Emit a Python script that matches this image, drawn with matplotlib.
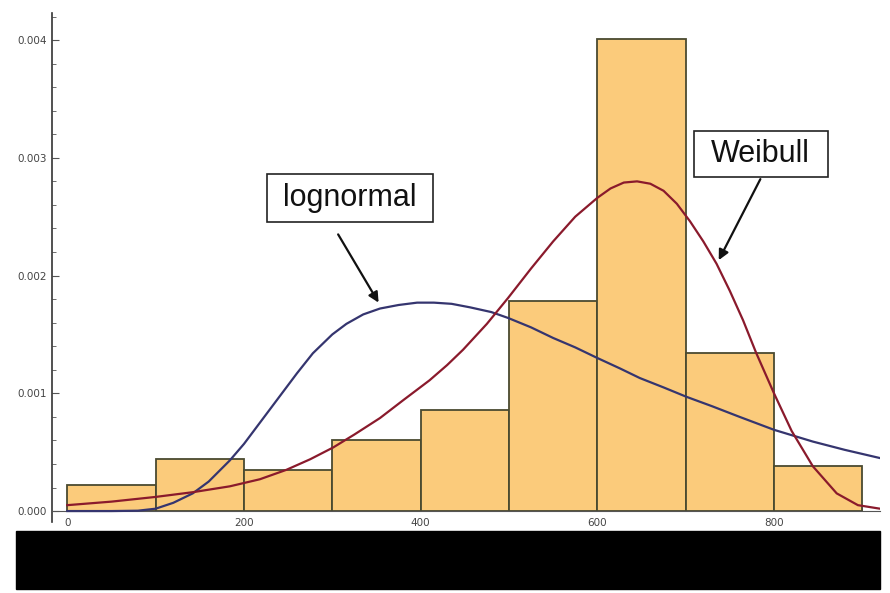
import matplotlib.pyplot as plt
from matplotlib.patches import Rectangle
from matplotlib.ticker import MultipleLocator, FormatStrFormatter

# histogram bins (width 100) and densities
bin_edges = [0, 100, 200, 300, 400, 500, 600, 700, 800, 900]
densities = [0.00022, 0.00044, 0.00035, 0.00060, 0.00086, 0.00178, 0.00401, 0.00134, 0.00038]

# fitted curves, points
logn_x = [0, 50, 80, 100, 120, 142, 160, 184, 200, 218, 241, 260, 278, 300, 316, 335, 354,
          375, 396, 415, 435, 456, 480, 499, 525, 550, 575, 600, 626, 648, 675, 701,
          730, 761, 800, 844, 880, 920]
logn_y = [0, 0, 0.000003, 0.00002, 0.00007, 0.00015, 0.00025, 0.00043, 0.00057, 0.00075,
          0.00098, 0.00117, 0.00134, 0.00150, 0.00159, 0.00167, 0.00172, 0.00175, 0.00177,
          0.00177, 0.00176, 0.00173, 0.00169, 0.00164, 0.00156, 0.00147, 0.00139, 0.00130,
          0.00121, 0.00113, 0.00105, 0.00097, 0.00089, 0.00080, 0.00069, 0.00059, 0.00052,
          0.00045]

weib_x = [0, 50, 100, 142, 184, 218, 248, 275, 301, 325, 354, 380, 410, 430, 448, 475,
          499, 525, 550, 575, 600, 615, 630, 645, 660, 675, 690, 705, 720, 735, 750, 765,
          780, 800, 820, 844, 871, 895, 920]
weib_y = [0.00005, 0.00008, 0.00012, 0.00016, 0.00021, 0.00027, 0.00035, 0.00044, 0.00054,
          0.00065, 0.00079, 0.00094, 0.00111, 0.00124, 0.00137, 0.00159, 0.00181, 0.00206,
          0.00229, 0.00250, 0.00266, 0.00274, 0.00279, 0.00280, 0.00278, 0.00272, 0.00261,
          0.00246, 0.00229, 0.00210, 0.00187, 0.00162, 0.00134, 0.00100, 0.00068, 0.00038,
          0.00015, 0.00005, 0.00002]

fig = plt.figure(figsize=(8.9, 5.93), dpi=100)
ax = fig.add_axes([52 / 890, (593 - 522) / 593, (880 - 52) / 890, (522 - 13) / 593])

lefts = bin_edges[:-1]
widths = [b - a for a, b in zip(bin_edges[:-1], bin_edges[1:])]
ax.bar(lefts, densities, width=widths, align='edge', color='#fbcb7b',
       edgecolor='#4a4a30', linewidth=1.3, zorder=2)

ax.plot(logn_x, logn_y, color='#35356f', lw=1.6, zorder=3, solid_joinstyle='round')
ax.plot(weib_x, weib_y, color='#8a1a2c', lw=1.6, zorder=3, solid_joinstyle='round')

ax.set_xlim(-17.3, 920)
ax.set_ylim(-0.000093, 0.00423)

for s in ['top', 'right']:
    ax.spines[s].set_visible(False)
ax.spines['bottom'].set_position(('data', 0))
ax.spines['bottom'].set_color('#555555')
ax.spines['left'].set_color('#333333')
ax.spines['left'].set_linewidth(1.2)

ax.xaxis.set_major_locator(MultipleLocator(200))
ax.xaxis.set_minor_locator(MultipleLocator(50))
ax.yaxis.set_major_locator(MultipleLocator(0.001))
ax.yaxis.set_minor_locator(MultipleLocator(0.0002))
ax.yaxis.set_major_formatter(FormatStrFormatter('%.3f'))
ax.tick_params(which='both', direction='in', colors='#555555', labelcolor='#444444',
               labelsize=7.5)
ax.tick_params(which='major', length=5)
ax.tick_params(which='minor', length=3)
ax.tick_params(axis='x', pad=5)

# label boxes
ax.add_patch(Rectangle((226, 0.002454), 188, 0.000408, fc='white', ec='#222222',
                       lw=1.2, zorder=4))
ax.text(320, 0.002658, 'lognormal', fontsize=22, ha='center', va='center',
        family='Liberation Sans', color='#111111', zorder=5)
ax.annotate('', xy=(354, 0.00175), xytext=(305, 0.00237),
            arrowprops=dict(arrowstyle='-|>', color='#111111', lw=1.6, mutation_scale=15))

ax.add_patch(Rectangle((709, 0.002837), 152, 0.00039, fc='white', ec='#222222',
                       lw=1.2, zorder=4))
ax.text(785, 0.003032, 'Weibull', fontsize=22, ha='center', va='center',
        family='Liberation Sans', color='#111111', zorder=5)
ax.annotate('', xy=(736, 0.00211), xytext=(786, 0.00284),
            arrowprops=dict(arrowstyle='-|>', color='#111111', lw=1.6, mutation_scale=15))

# black band at the bottom of the image
fig.patches.append(Rectangle((16 / 890, (593 - 589) / 593), (880 - 16) / 890, 58 / 593,
                             transform=fig.transFigure, color='black', zorder=10))

plt.savefig('out.png', dpi=100)
